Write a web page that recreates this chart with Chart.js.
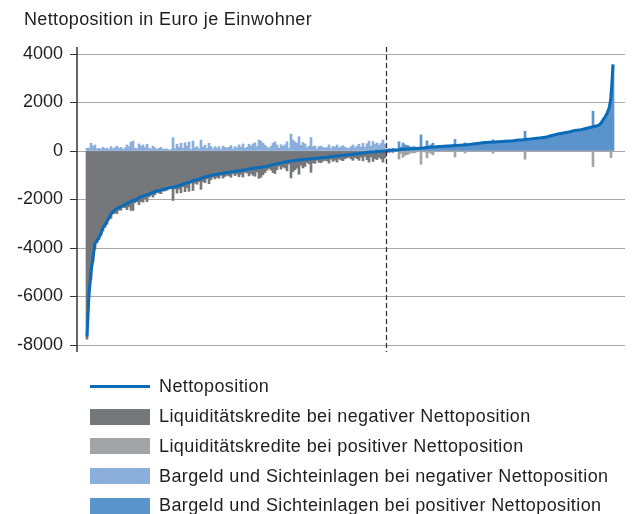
<!DOCTYPE html>
<html lang="de">
<head>
<meta charset="utf-8">
<title>Nettoposition je Einwohner</title>
<script src="https://cdn.jsdelivr.net/npm/chart.js@4.4.1/dist/chart.umd.min.js"></script>
<style>
  html, body { margin: 0; padding: 0; background: #fff; }
  #wrap { position: relative; width: 632px; height: 514px; font-family: 'Liberation Sans', Arial, sans-serif; color: #1f1f1f; }
  #chart { position: absolute; left: 0; top: 0; }
  #titel { position: absolute; left: 24px; top: 10px; font-size: 18px; line-height: 18px; letter-spacing: 0.35px; white-space: nowrap; }
  #legende { position: absolute; left: 90px; top: 372px; }
  .eintrag { display: flex; align-items: center; height: 29.75px; font-size: 18px; letter-spacing: 0.4px; white-space: nowrap; }
  .marke { width: 60px; margin-right: 9px; }
</style>
</head>
<body>
<div id="wrap">
  <canvas id="chart" width="632" height="514"></canvas>
  <div id="titel">Nettoposition in Euro je Einwohner</div>
  <div id="legende"></div>
</div>
<script>
// Gemeinden sortiert nach Nettoposition, Werte in Euro je Einwohner
const nettoNegativ = [
  -7650, -5900, -5000, -4400, -3800, -3700, -3550, -3400, -3150, -3050,
  -2900, -2750, -2600, -2500, -2430, -2380, -2330, -2290, -2250, -2210,
  -2170, -2120, -2080, -2040, -2020, -2000, -1920, -1880, -1860, -1830,
  -1810, -1780, -1740, -1700, -1670, -1640, -1630, -1610, -1590, -1560,
  -1540, -1520, -1500, -1490, -1470, -1460, -1420, -1400, -1360, -1340,
  -1310, -1290, -1260, -1220, -1200, -1190, -1170, -1130, -1100, -1070,
  -1050, -1030, -1010, -990, -970, -960, -945, -930, -915, -900,
  -890, -880, -865, -850, -835, -825, -810, -800, -785, -770,
  -760, -745, -730, -715, -700, -690, -680, -670, -660, -650,
  -635, -610, -590, -570, -550, -525, -505, -490, -470, -455,
  -440, -425, -410, -400, -390, -380, -370, -360, -350, -345,
  -340, -330, -320, -310, -300, -295, -290, -280, -270, -265,
  -260, -250, -240, -230, -220, -210, -200, -190, -180, -170,
  -165, -155, -145, -135, -125, -115, -105, -95, -85, -75,
  -60, -50, -45, -40, -35, -25, -20, -15, -10, -5
];
const bargeldNegativ = [
  110, 120, 320, 200, 250, 90, 110, 80, 150, 100,
  120, 60, 180, 90, 140, 200, 110, 150, 70, 130,
  250, 180, 370, 410, 120, 90, 290, 200, 250, 140,
  280, 120, 90, 200, 130, 70, 110, 150, 60, 90,
  80, 40, 60, 550, 90, 280, 150, 320, 110, 340,
  200, 370, 60, 410, 130, 180, 90, 450, 160, 240,
  100, 320, 180, 90, 180, 120, 180, 70, 200, 150,
  110, 150, 220, 90, 180, 130, 250, 160, 290, 110,
  150, 280, 200, 290, 340, 180, 450, 410, 320, 240,
  160, 110, 200, 320, 380, 250, 120, 260, 190, 250,
  380, 120, 700, 450, 380, 320, 590, 230, 350, 290,
  140, 200, 560, 180, 210, 90, 180, 200, 150, 120,
  150, 250, 100, 200, 160, 250, 130, 180, 220, 150,
  120, 100, 180, 250, 140, 200, 280, 160, 320, 150,
  300, 410, 200, 390, 280, 330, 240, 310, 450, 280
];
const nettoPositiv = [
  10, 20, 30, 35, 40, 45, 50, 60, 70, 75,
  80, 85, 90, 95, 100, 105, 110, 115, 120, 130,
  140, 150, 160, 165, 170, 180, 185, 190, 195, 200,
  205, 210, 215, 220, 225, 230, 235, 240, 250, 255,
  260, 270, 275, 285, 295, 305, 315, 330, 340, 350,
  355, 360, 365, 370, 375, 380, 385, 390, 395, 400,
  405, 410, 415, 420, 430, 440, 450, 455, 460, 470,
  480, 490, 500, 510, 520, 530, 540, 545, 555, 565,
  575, 610, 630, 650, 670, 690, 710, 725, 740, 755,
  770, 785, 805, 830, 850, 860, 870, 880, 900, 920,
  940, 960, 980, 1000, 1020, 1040, 1070, 1150, 1280, 1400,
  1550, 1750, 2200, 3560
];
const bargeldPositiv = [
  70, 100, 70, 110, 60, 45, 380, 160, 330, 255,
  230, 205, 150, 175, 170, 135, 110, 665, 120, 170,
  420, 210, 260, 325, 190, 180, 215, 190, 195, 200,
  205, 230, 215, 220, 475, 230, 235, 240, 270, 335,
  260, 270, 275, 285, 315, 305, 315, 330, 340, 350,
  355, 360, 365, 460, 375, 380, 385, 390, 395, 400,
  405, 410, 425, 420, 430, 440, 450, 455, 460, 810,
  480, 490, 500, 510, 520, 530, 540, 545, 555, 565,
  575, 610, 630, 650, 670, 690, 710, 745, 740, 755,
  770, 785, 805, 830, 850, 860, 870, 880, 920, 920,
  940, 960, 980, 1640, 1020, 1040, 1070, 1150, 1280, 1400,
  1550, 1750, 2470, 3560
];
const yTicks = [-8000, -6000, -4000, -2000, 0, 2000, 4000];

const farben = {
  linie: '#0a6cb8',
  kreditNeg: '#76777a',
  kreditPos: '#a3a4a7',
  bargeldNeg: '#8baedb',
  bargeldPos: '#5b93cc',
  gitter: '#a8a8a8',
  achse: '#333333',
  text: '#1f1f1f'
};
const schrift = { family: "'Liberation Sans', Arial, sans-serif", size: 18 };

const netto = nettoNegativ.concat(nettoPositiv);
const bargeld = bargeldNegativ.concat(bargeldPositiv);
const grenze = nettoNegativ.length; // erste Gemeinde mit positiver Nettoposition

function punkte(von, bis, wert) {
  const out = [];
  for (let i = von; i < bis; i++) out.push({ x: i, y: wert(i) });
  return out;
}
// Liquiditätskredite = Bargeld - Nettoposition, nach unten abgetragen
const kreditWert = i => netto[i] - bargeld[i];
const bargeldWert = i => bargeld[i];

const balken = {
  type: 'bar',
  grouped: false,
  categoryPercentage: 1,
  barPercentage: 1,
  borderWidth: 0,
  order: 1
};

// Achsenlinie und gestrichelte Trennlinie zwischen negativer und positiver Nettoposition
const linienPlugin = {
  id: 'linien',
  afterDatasetsDraw(chart) {
    const { ctx, chartArea, scales } = chart;
    ctx.save();
    ctx.strokeStyle = farben.achse;
    ctx.lineWidth = 1.5;
    ctx.beginPath();
    ctx.moveTo(chartArea.left, chartArea.top - 7);
    ctx.lineTo(chartArea.left, chartArea.bottom + 7);
    ctx.stroke();

    const xt = Math.round(scales.x.getPixelForValue(grenze - 0.5)) + 0.5;
    ctx.setLineDash([5, 3]);
    ctx.lineWidth = 1.3;
    ctx.beginPath();
    ctx.moveTo(xt, chartArea.top - 7);
    ctx.lineTo(xt, chartArea.bottom + 7);
    ctx.stroke();
    ctx.restore();
  }
};

const chart = new Chart(document.getElementById('chart'), {
  data: {
    datasets: [
      {
        type: 'line',
        label: 'Nettoposition',
        data: punkte(0, netto.length, i => netto[i]),
        borderColor: farben.linie,
        backgroundColor: farben.linie,
        borderWidth: 3,
        pointRadius: 0,
        tension: 0,
        borderJoinStyle: 'round',
        order: 0
      },
      Object.assign({}, balken, {
        label: 'Liquiditätskredite bei negativer Nettoposition',
        data: punkte(0, grenze, kreditWert),
        backgroundColor: farben.kreditNeg
      }),
      Object.assign({}, balken, {
        label: 'Liquiditätskredite bei positiver Nettoposition',
        data: punkte(grenze, netto.length, kreditWert),
        backgroundColor: farben.kreditPos
      }),
      Object.assign({}, balken, {
        label: 'Bargeld und Sichteinlagen bei negativer Nettoposition',
        data: punkte(0, grenze, bargeldWert),
        backgroundColor: farben.bargeldNeg
      }),
      Object.assign({}, balken, {
        label: 'Bargeld und Sichteinlagen bei positiver Nettoposition',
        data: punkte(grenze, netto.length, bargeldWert),
        backgroundColor: farben.bargeldPos
      })
    ]
  },
  options: {
    responsive: false,
    devicePixelRatio: 1,
    animation: false,
    events: [],
    layout: { padding: { top: 54, right: 7, bottom: 169, left: 0 } },
    plugins: {
      legend: { display: false },
      tooltip: { enabled: false }
    },
    scales: {
      x: {
        type: 'linear',
        offset: false,
        min: -5,
        max: netto.length + 5,
        display: false
      },
      y: {
        min: -8000,
        max: 4000,
        afterBuildTicks: scale => { scale.ticks = yTicks.map(v => ({ value: v })); },
        afterFit: scale => { scale.width = 77; },
        border: { display: false },
        grid: {
          color: farben.gitter,
          lineWidth: 1,
          tickLength: 7,
          tickColor: farben.achse
        },
        ticks: {
          color: farben.text,
          font: schrift,
          padding: 7,
          callback: v => String(v)
        }
      }
    }
  },
  plugins: [linienPlugin]
});

// Legende untereinander, links bündig
const legende = document.getElementById('legende');
chart.data.datasets.forEach(ds => {
  const zeile = document.createElement('div');
  zeile.className = 'eintrag';
  const marke = document.createElement('div');
  marke.className = 'marke';
  marke.style.background = ds.type === 'line' ? ds.borderColor : ds.backgroundColor;
  marke.style.height = ds.type === 'line' ? '3px' : '16px';
  const text = document.createElement('span');
  text.textContent = ds.label;
  zeile.appendChild(marke);
  zeile.appendChild(text);
  legende.appendChild(zeile);
});
</script>
</body>
</html>
